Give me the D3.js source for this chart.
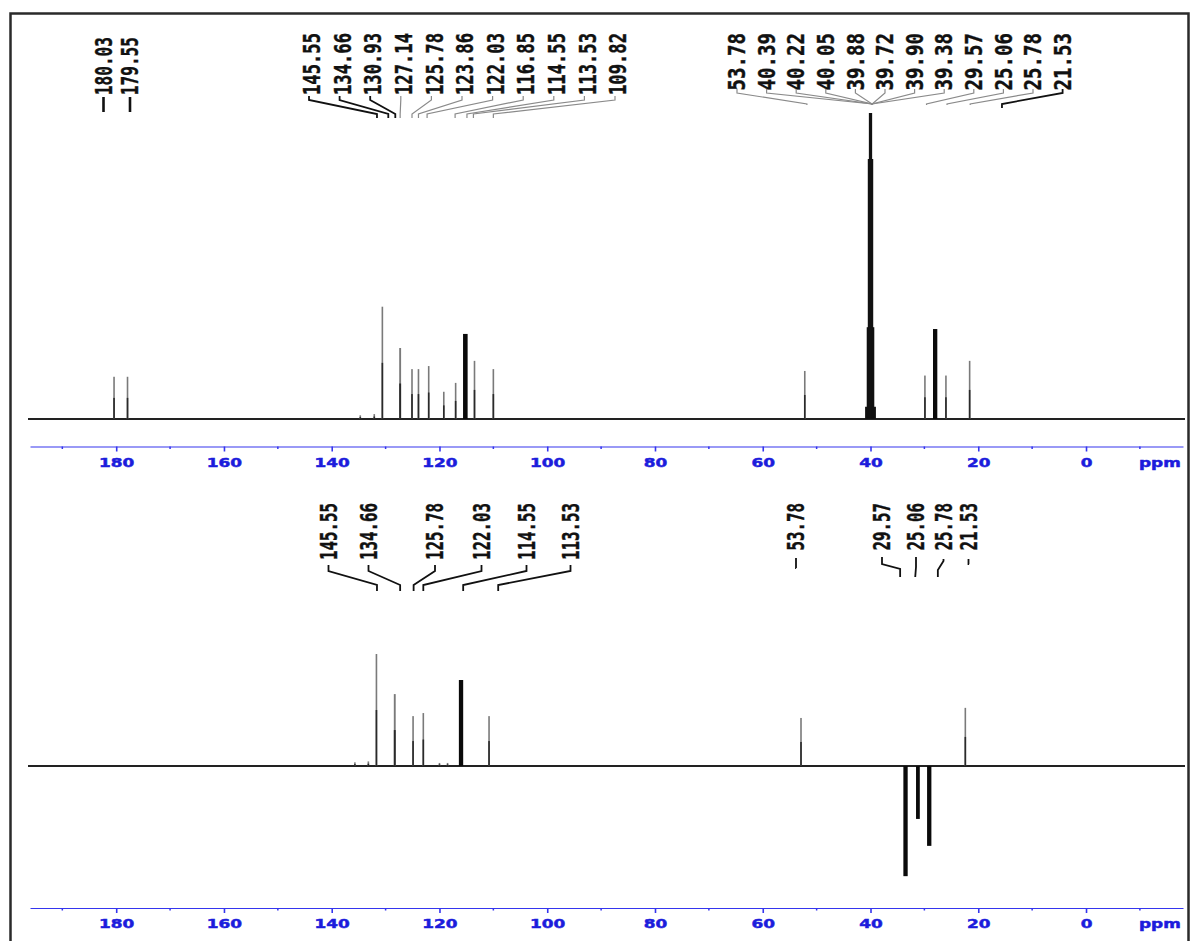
<!DOCTYPE html>
<html>
<head>
<meta charset="utf-8">
<script src="https://cdn.jsdelivr.net/npm/d3@7"></script>
<style>
  html, body { margin: 0; padding: 0; background: #fff; }
  svg { display: block; }
</style>
</head>
<body>
<svg id="chart" width="1192" height="941"></svg>
<script>
// ---------------- DATA ----------------
// axis tick labels (ppm)
const majorTicks = [180, 160, 140, 120, 100, 80, 60, 40, 20, 0];
const minorTicks = [190, 170, 150, 130, 110, 90, 70, 50, 30, 10, -10];

// 13C spectrum (top): peak positions (ppm), relative intensities, line widths (ppm)
const topPpm   = [180.4, 177.9, 134.7, 132.1, 130.6, 127.3, 125.1, 123.9, 122.0, 119.2, 117.0, 115.2, 113.5, 110.0, 52.2, 29.9, 28.0, 26.0, 21.6];
const topInt   = [13.8, 13.8, 1.2, 1.6, 36.7, 23.2, 16.3, 16.3, 17.3, 8.9, 11.8, 27.8, 19.0, 16.3, 15.7, 14.2, 29.4, 14.2, 19.0];
const topWidth = [0.25, 0.25, 0.25, 0.25, 0.3, 0.35, 0.25, 0.25, 0.25, 0.25, 0.25, 0.85, 0.25, 0.25, 0.25, 0.25, 0.8, 0.25, 0.25];

// solvent (DMSO-d6) multiplet
const dmsoPpm = [40.8, 40.5, 40.3, 40.1, 39.9, 39.7, 39.5, 39.2];
const dmsoInt = [4, 30, 85, 100, 100, 85, 30, 4];

// DEPT-135 spectrum (bottom)
const botPpm   = [135.7, 133.2, 131.7, 128.3, 124.9, 123.0, 120.0, 118.5, 116.0, 110.8, 52.9, 33.5, 31.2, 29.1, 22.4];
const botInt   = [1.2, 1.5, 36.6, 23.5, 16.3, 17.3, 1.0, 1.0, 28.1, 16.3, 15.7, -36.0, -17.3, -26.1, 19.0];
const botWidth = [0.25, 0.25, 0.3, 0.35, 0.25, 0.25, 0.25, 0.25, 0.8, 0.25, 0.25, 0.8, 0.7, 0.8, 0.25];

// peak annotations (label text, ppm where the leader ends)
const topLabelsA  = ["180.03", "179.55"];
const topLabelsB  = ["145.55", "134.66", "130.93", "127.14", "125.78", "123.86", "122.03", "116.85", "114.55", "113.53", "109.82"];
const topTargetsB = [131.6, 129.5, 128.2, 127.3, 125.1, 123.9, 122.3, 117.1, 114.9, 113.7, 110.0];
const topLabelsC  = ["53.78", "40.39", "40.22", "40.05", "39.88", "39.72", "39.90", "39.38", "29.57", "25.06", "25.78", "21.53"];
const topTargetsC = [51.8, 39.7, 39.7, 39.7, 39.7, 39.7, 39.7, 39.7, 29.6, 25.8, 21.5, 15.6];
const botLabelsB  = ["145.55", "134.66", "125.78", "122.03", "114.55", "113.53"];
const botTargetsB = [131.6, 127.3, 124.8, 123.0, 115.6, 109.1];
const botLabelsC  = ["53.78", "29.57", "25.06", "25.78", "21.53"];
const botTargetsC = [53.8, 34.5, 31.7, 27.5, 21.7];

// ---------------- LAYOUT ----------------
const svg = d3.select("#chart");
const x = d3.scaleLinear().domain([196, -18]).range([30, 1183]);
const pxPerUnit = 3.06;
const panels = [
  { base: 419, axisY: 446.5 },
  { base: 766, axisY: 908 }
];
const yTop = d3.scaleLinear().domain([0, 100]).range([panels[0].base, panels[0].base - 100 * pxPerUnit]);
const yBot = d3.scaleLinear().domain([0, 100]).range([panels[1].base, panels[1].base - 100 * pxPerUnit]);

// frame
svg.append("rect").attr("x", 10.5).attr("y", 13.5).attr("width", 1178).attr("height", 960)
  .attr("fill", "none").attr("stroke", "#2a2a2a").attr("stroke-width", 2.5);

// axes
const axisBlue = "#3535ee";
const tickFont = g => g.attr("fill", "#1c1cdc")
    .style("font-family", "'DejaVu Sans', sans-serif")
    .style("font-weight", "bold")
    .style("font-size", "13px")
    .attr("stroke", "#1c1cdc").attr("stroke-width", 0.5);
panels.forEach(p => {
  const g = svg.append("g").attr("transform", `translate(0,${p.axisY})`);
  const ax = d3.axisBottom(x).tickValues(majorTicks).tickSize(5).tickSizeOuter(0).tickFormat(d3.format("d"));
  g.call(ax);
  g.select(".domain").attr("stroke", axisBlue).attr("stroke-width", 1.2);
  g.selectAll(".tick line").attr("stroke", axisBlue).attr("stroke-width", 1.6);
  g.selectAll(".tick text")
    .attr("y", 0).attr("dy", 0)
    .attr("transform", "translate(0,20) scale(1.3,1)")
    .call(tickFont);
  g.selectAll(".minor").data(minorTicks).enter().append("line")
    .attr("class", "minor")
    .attr("x1", d => x(d)).attr("x2", d => x(d))
    .attr("y1", 0).attr("y2", 2.5)
    .attr("stroke", axisBlue).attr("stroke-width", 1.5);
  g.append("text").attr("transform", `translate(${x(-13.7)},20) scale(1.3,1)`)
    .attr("text-anchor", "middle").call(tickFont)
    .text("ppm");
});

// baselines
panels.forEach(p => {
  svg.append("line").attr("x1", 28).attr("x2", 1185).attr("y1", p.base).attr("y2", p.base)
    .attr("stroke", "#222").attr("stroke-width", 2);
});

// peaks
function drawPeaks(ppm, ints, widths, y, base) {
  const g = svg.append("g");
  ppm.forEach((v, i) => {
    const w = Math.max(1.6, widths[i] * (x(0) - x(1)));
    const thick = widths[i] >= 0.6;
    const yv = y(ints[i]);
    const top = Math.min(yv, base), h = Math.abs(yv - base);
    if (thick) {
      g.append("rect").attr("x", x(v) - w / 2).attr("y", top).attr("width", w).attr("height", h).attr("fill", "#0a0a0a");
    } else {
      g.append("rect").attr("x", x(v) - w / 2).attr("y", top).attr("width", w).attr("height", h).attr("fill", "#7a7a7a");
      const yl = y(ints[i] * 0.5);
      g.append("rect").attr("x", x(v) - w / 2).attr("y", Math.min(yl, base)).attr("width", w).attr("height", Math.abs(yl - base)).attr("fill", "#2a2a2a");
    }
  });
}
drawPeaks(topPpm, topInt, topWidth, yTop, panels[0].base);
drawPeaks(botPpm, botInt, botWidth, yBot, panels[1].base);
// solvent multiplet
svg.append("g").selectAll("line").data(dmsoPpm).enter().append("line")
  .attr("x1", d => x(d)).attr("x2", d => x(d))
  .attr("y1", panels[0].base).attr("y2", (d, i) => yTop(dmsoInt[i]))
  .attr("stroke", "#111").attr("stroke-width", 2.2);

// labels
function vlabel(text, lx, yTopPos, sx) {
  svg.append("text")
    .attr("transform", `translate(${lx},${yTopPos}) rotate(-90) scale(${sx},1)`)
    .attr("text-anchor", "end").attr("dy", "0.36em")
    .attr("fill", "#111").attr("stroke", "#111").attr("stroke-width", 0.4)
    .style("font-family", "'DejaVu Sans Mono', monospace")
    .style("font-weight", "bold").style("font-size", "23px")
    .text(text);
}
function leader(lx, tx, ys, dark) {
  const p = d3.path();
  p.moveTo(lx, ys[0]); p.lineTo(lx, ys[1]); p.lineTo(tx, ys[2]); p.lineTo(tx, ys[3]);
  svg.append("path").attr("d", p.toString()).attr("fill", "none")
    .attr("stroke", dark ? "#111" : "#8a8a8a").attr("stroke-width", dark ? 1.8 : 1.2);
}

// top group A
const topAX = [103.5, 130];
topLabelsA.forEach((t, i) => {
  vlabel(t, topAX[i], 37, 0.70);
  svg.append("line").attr("x1", topAX[i]).attr("x2", topAX[i]).attr("y1", 97).attr("y2", 112)
    .attr("stroke", "#111").attr("stroke-width", 2.6);
});
// top group B
topLabelsB.forEach((t, i) => {
  const lx = 312 + i * 30.6;
  vlabel(t, lx, 33, 0.746);
  leader(lx - 3, x(topTargetsB[i]), [96, 100, 114, 118], i < 3);
});
// top group C
topLabelsC.forEach((t, i) => {
  const lx = 737 + i * 29.6;
  vlabel(t, lx, 33, 0.83);
  const last = i === topLabelsC.length - 1;
  leader(lx, x(topTargetsC[i]), [89, 93, 104, last ? 108 : 105], last);
});
// bottom group B
const botBX = [328.5, 368.5, 435, 481.5, 526.5, 570.5];
botLabelsB.forEach((t, i) => {
  vlabel(t, botBX[i], 503, 0.686);
  leader(botBX[i], x(botTargetsB[i]), [565, 571, 585, 591], true);
});
// bottom group C
const botCX = [796, 882, 916, 943.5, 968.5];
const botCLead = [[558, 568, 568, 568], [557, 564, 569, 577], [557, 567, 577, 577], [559, 561, 570, 577], [559, 564, 564, 564]];
botLabelsC.forEach((t, i) => {
  vlabel(t, botCX[i], 503, 0.686);
  leader(botCX[i], x(botTargetsC[i]), botCLead[i], true);
});
</script>
</body>
</html>
